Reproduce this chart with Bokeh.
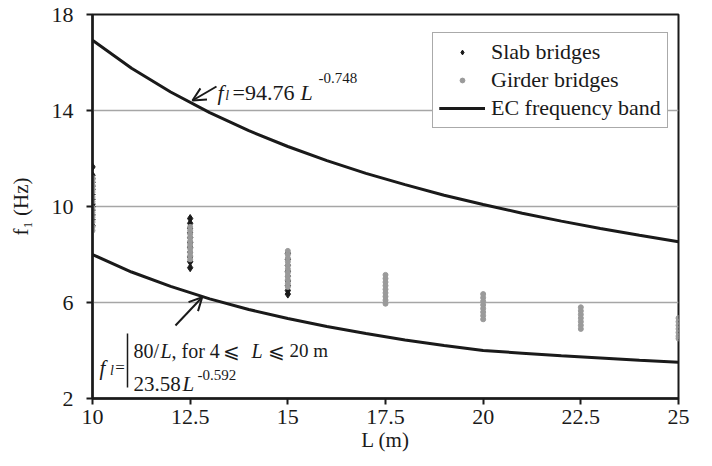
import math
from bokeh.plotting import figure
from bokeh.models import (Range1d, FixedTicker, Label, Arrow, OpenHead, Legend,
                          LegendItem, ColumnDataSource)
from bokeh.embed import file_html
from bokeh.resources import INLINE

# ---------------- data ----------------
x_ticks = [10, 12.5, 15, 17.5, 20, 22.5, 25]
x_tick_labels = ["10", "12.5", "15", "17.5", "20", "22.5", "25"]
y_ticks = [2, 6, 10, 14, 18]
y_tick_labels = ["2", "6", "10", "14", "18"]

slab_L10 = [11.65, 11.3, 11.15, 11.0, 10.85, 10.7, 10.5, 10.3, 10.1, 10.0, 9.85, 9.65, 9.45, 9.2]
slab_L125 = [9.5, 9.3, 9.1, 8.9, 8.7, 8.5, 8.3, 8.1, 7.9, 7.7, 7.45]
slab_L15 = [8.05, 7.8, 7.55, 7.3, 7.1, 6.9, 6.7, 6.5, 6.35]

girder_L10 = [11.2, 11.05, 10.9, 10.75, 10.6, 10.4, 10.2, 9.95, 9.75, 9.55, 9.35, 9.15, 9.0]
girder_L125 = [9.15, 9.0, 8.85, 8.7, 8.55, 8.4, 8.25, 8.1, 7.95, 7.8]
girder_L15 = [8.15, 8.0, 7.85, 7.7, 7.55, 7.4, 7.25, 7.1, 6.95, 6.8, 6.65]
girder_L175 = [7.15, 7.0, 6.85, 6.7, 6.55, 6.4, 6.25, 6.1, 5.95]
girder_L20 = [6.35, 6.2, 6.05, 5.9, 5.75, 5.6, 5.45, 5.3]
girder_L225 = [5.8, 5.65, 5.5, 5.35, 5.2, 5.05, 4.9]
girder_L25 = [5.35, 5.2, 5.05, 4.9, 4.75, 4.6, 4.5]

band_L = [10, 11, 12, 13, 14, 15, 16, 17, 18, 19, 20, 21, 22, 23, 24, 25]
band_upper = [16.93, 15.76, 14.77, 13.91, 13.16, 12.50, 11.91, 11.38, 10.91, 10.47,
              10.08, 9.72, 9.39, 9.08, 8.80, 8.53]
band_lower = [8.00, 7.27, 6.67, 6.15, 5.71, 5.33, 5.00, 4.71, 4.44, 4.21,
              4.00, 3.89, 3.78, 3.69, 3.59, 3.51]

slab_cols = [(10, slab_L10), (12.5, slab_L125), (15, slab_L15)]
girder_cols = [(10, girder_L10), (12.5, girder_L125), (15, girder_L15), (17.5, girder_L175),
               (20, girder_L20), (22.5, girder_L225), (25, girder_L25)]

slab_x = [L for L, vals in slab_cols for _ in vals]
slab_y = [v for L, vals in slab_cols for v in vals]
gird_x = [L for L, vals in girder_cols for _ in vals]
gird_y = [v for L, vals in girder_cols for v in vals]

FONT = "'Liberation Serif'"
AX_FONT = "'Liberation Serif', serif"
TXT = "#1a1a1a"

p = figure(width=708, height=464, output_backend="svg", toolbar_location=None,
           x_range=Range1d(x_ticks[0], x_ticks[-1]), y_range=Range1d(y_ticks[0], y_ticks[-1]),
           min_border_left=92, min_border_right=30, min_border_top=14, min_border_bottom=66,
           background_fill_color="white", border_fill_color="white")

p.xgrid.visible = False
p.ygrid.grid_line_color = "#a6a6a6"
p.ygrid.grid_line_width = 1.5
p.outline_line_color = "#1a1a1a"
p.outline_line_width = 2
p.outline_line_alpha = 1

p.xaxis.ticker = FixedTicker(ticks=x_ticks)
p.yaxis.ticker = FixedTicker(ticks=y_ticks)
p.xaxis.major_label_overrides = {t: s for t, s in zip(x_ticks, x_tick_labels)}
p.yaxis.major_label_overrides = {t: s for t, s in zip(y_ticks, y_tick_labels)}
for ax in (p.xaxis, p.yaxis):
    ax.axis_line_width = 2.5
    ax.axis_line_color = "#1a1a1a"
    ax.major_tick_line_width = 2
    ax.major_tick_line_color = "#1a1a1a"
    ax.major_tick_out = 6
    ax.major_tick_in = 0
    ax.minor_tick_out = 0
    ax.minor_tick_in = 0
    ax.major_label_text_font = AX_FONT
    ax.major_label_text_font_size = "22px"
    ax.major_label_text_color = TXT
    ax.axis_label_text_font = AX_FONT
    ax.axis_label_text_font_size = "21px"
    ax.axis_label_text_font_style = "normal"
    ax.axis_label_text_color = TXT
p.xaxis.major_label_standoff = 5
p.yaxis.major_label_standoff = 13
p.xaxis.axis_label = "L (m)"
p.yaxis.axis_label = "f\u2081 (Hz)"
p.xaxis.axis_label_standoff = 1
p.yaxis.axis_label_standoff = 16

src_slab = ColumnDataSource(dict(x=slab_x, y=slab_y))
src_gird = ColumnDataSource(dict(x=gird_x, y=gird_y))
src_band = ColumnDataSource(dict(x=band_L, up=band_upper, lo=band_lower))

r_slab = p.scatter("x", "y", source=src_slab, marker="diamond", size=8,
                   fill_color="#1a1a1a", line_color="#1a1a1a")
r_gird = p.scatter("x", "y", source=src_gird, marker="circle", size=5,
                   fill_color="#9a9a9a", line_color="#9a9a9a")
r_up = p.line("x", "up", source=src_band, line_color="#1a1a1a", line_width=3)
r_lo = p.line("x", "lo", source=src_band, line_color="#1a1a1a", line_width=3)

legend = Legend(items=[LegendItem(label="Slab bridges", renderers=[r_slab]),
                       LegendItem(label="Girder bridges", renderers=[r_gird]),
                       LegendItem(label="EC frequency band", renderers=[r_up, r_lo])],
                location=(340, 270), padding=6, spacing=2, margin=0,
                glyph_width=46, glyph_height=12, label_height=24, label_standoff=6,
                label_text_font=FONT, label_text_font_size="22px", label_text_color=TXT,
                border_line_color="#555555", border_line_width=1.2,
                background_fill_color="white", background_fill_alpha=1)
p.add_layout(legend)


def lab(x, y, text, size, italic=False, angle=0.0):
    p.add_layout(Label(x=x, y=y, text=text, angle=angle, text_font=FONT,
                       text_font_size=f"{size}px", text_color=TXT,
                       text_font_style="italic" if italic else "normal",
                       text_align="left", text_baseline="alphabetic"))


# upper annotation: f_l = 94.76 L^-0.748
lab(13.200, 14.75, "f", 22, True)
lab(13.40, 14.62, "l", 14, True)
lab(13.584, 14.75, "=94.76", 22)
lab(15.324, 14.75, "L", 22, True)
lab(15.785, 15.375, "-0.748", 15)
p.add_layout(Arrow(end=OpenHead(size=13, line_width=2, line_color="#1a1a1a"),
                   x_start=13.174, y_start=15.0, x_end=12.559, y_end=14.417,
                   line_width=2, line_color="#1a1a1a"))

# lower annotation
lab(10.179, 3.29, "f", 21, True)
lab(10.45, 3.17, "l", 14, True)
lab(10.58, 3.29, "=", 17)
p.segment(x0=[10.896], y0=[4.708], x1=[10.896], y1=[2.458], line_color="#1a1a1a", line_width=1.5)
lab(11.049, 4.0, "80/", 20)
lab(11.741, 4.0, "L", 20, True)
lab(12.022, 4.0, ", for 4", 20)
lab(13.353, 4.0, "\u2A7D", 20)
lab(14.070, 4.0, "L", 20, True)
lab(14.480, 4.0, "\u2A7D", 20)
lab(15.040, 4.0, "20 m", 19)
lab(11.049, 2.625, "23.58", 21)
lab(12.304, 2.625, "L", 21, True)
lab(12.688, 3.0, "-0.592", 15)
p.add_layout(Arrow(end=OpenHead(size=13, line_width=2, line_color="#1a1a1a"),
                   x_start=12.124, y_start=5.042, x_end=12.808, y_end=6.221,
                   line_width=2, line_color="#1a1a1a"))

open("out.html", "w").write(file_html(p, INLINE))
